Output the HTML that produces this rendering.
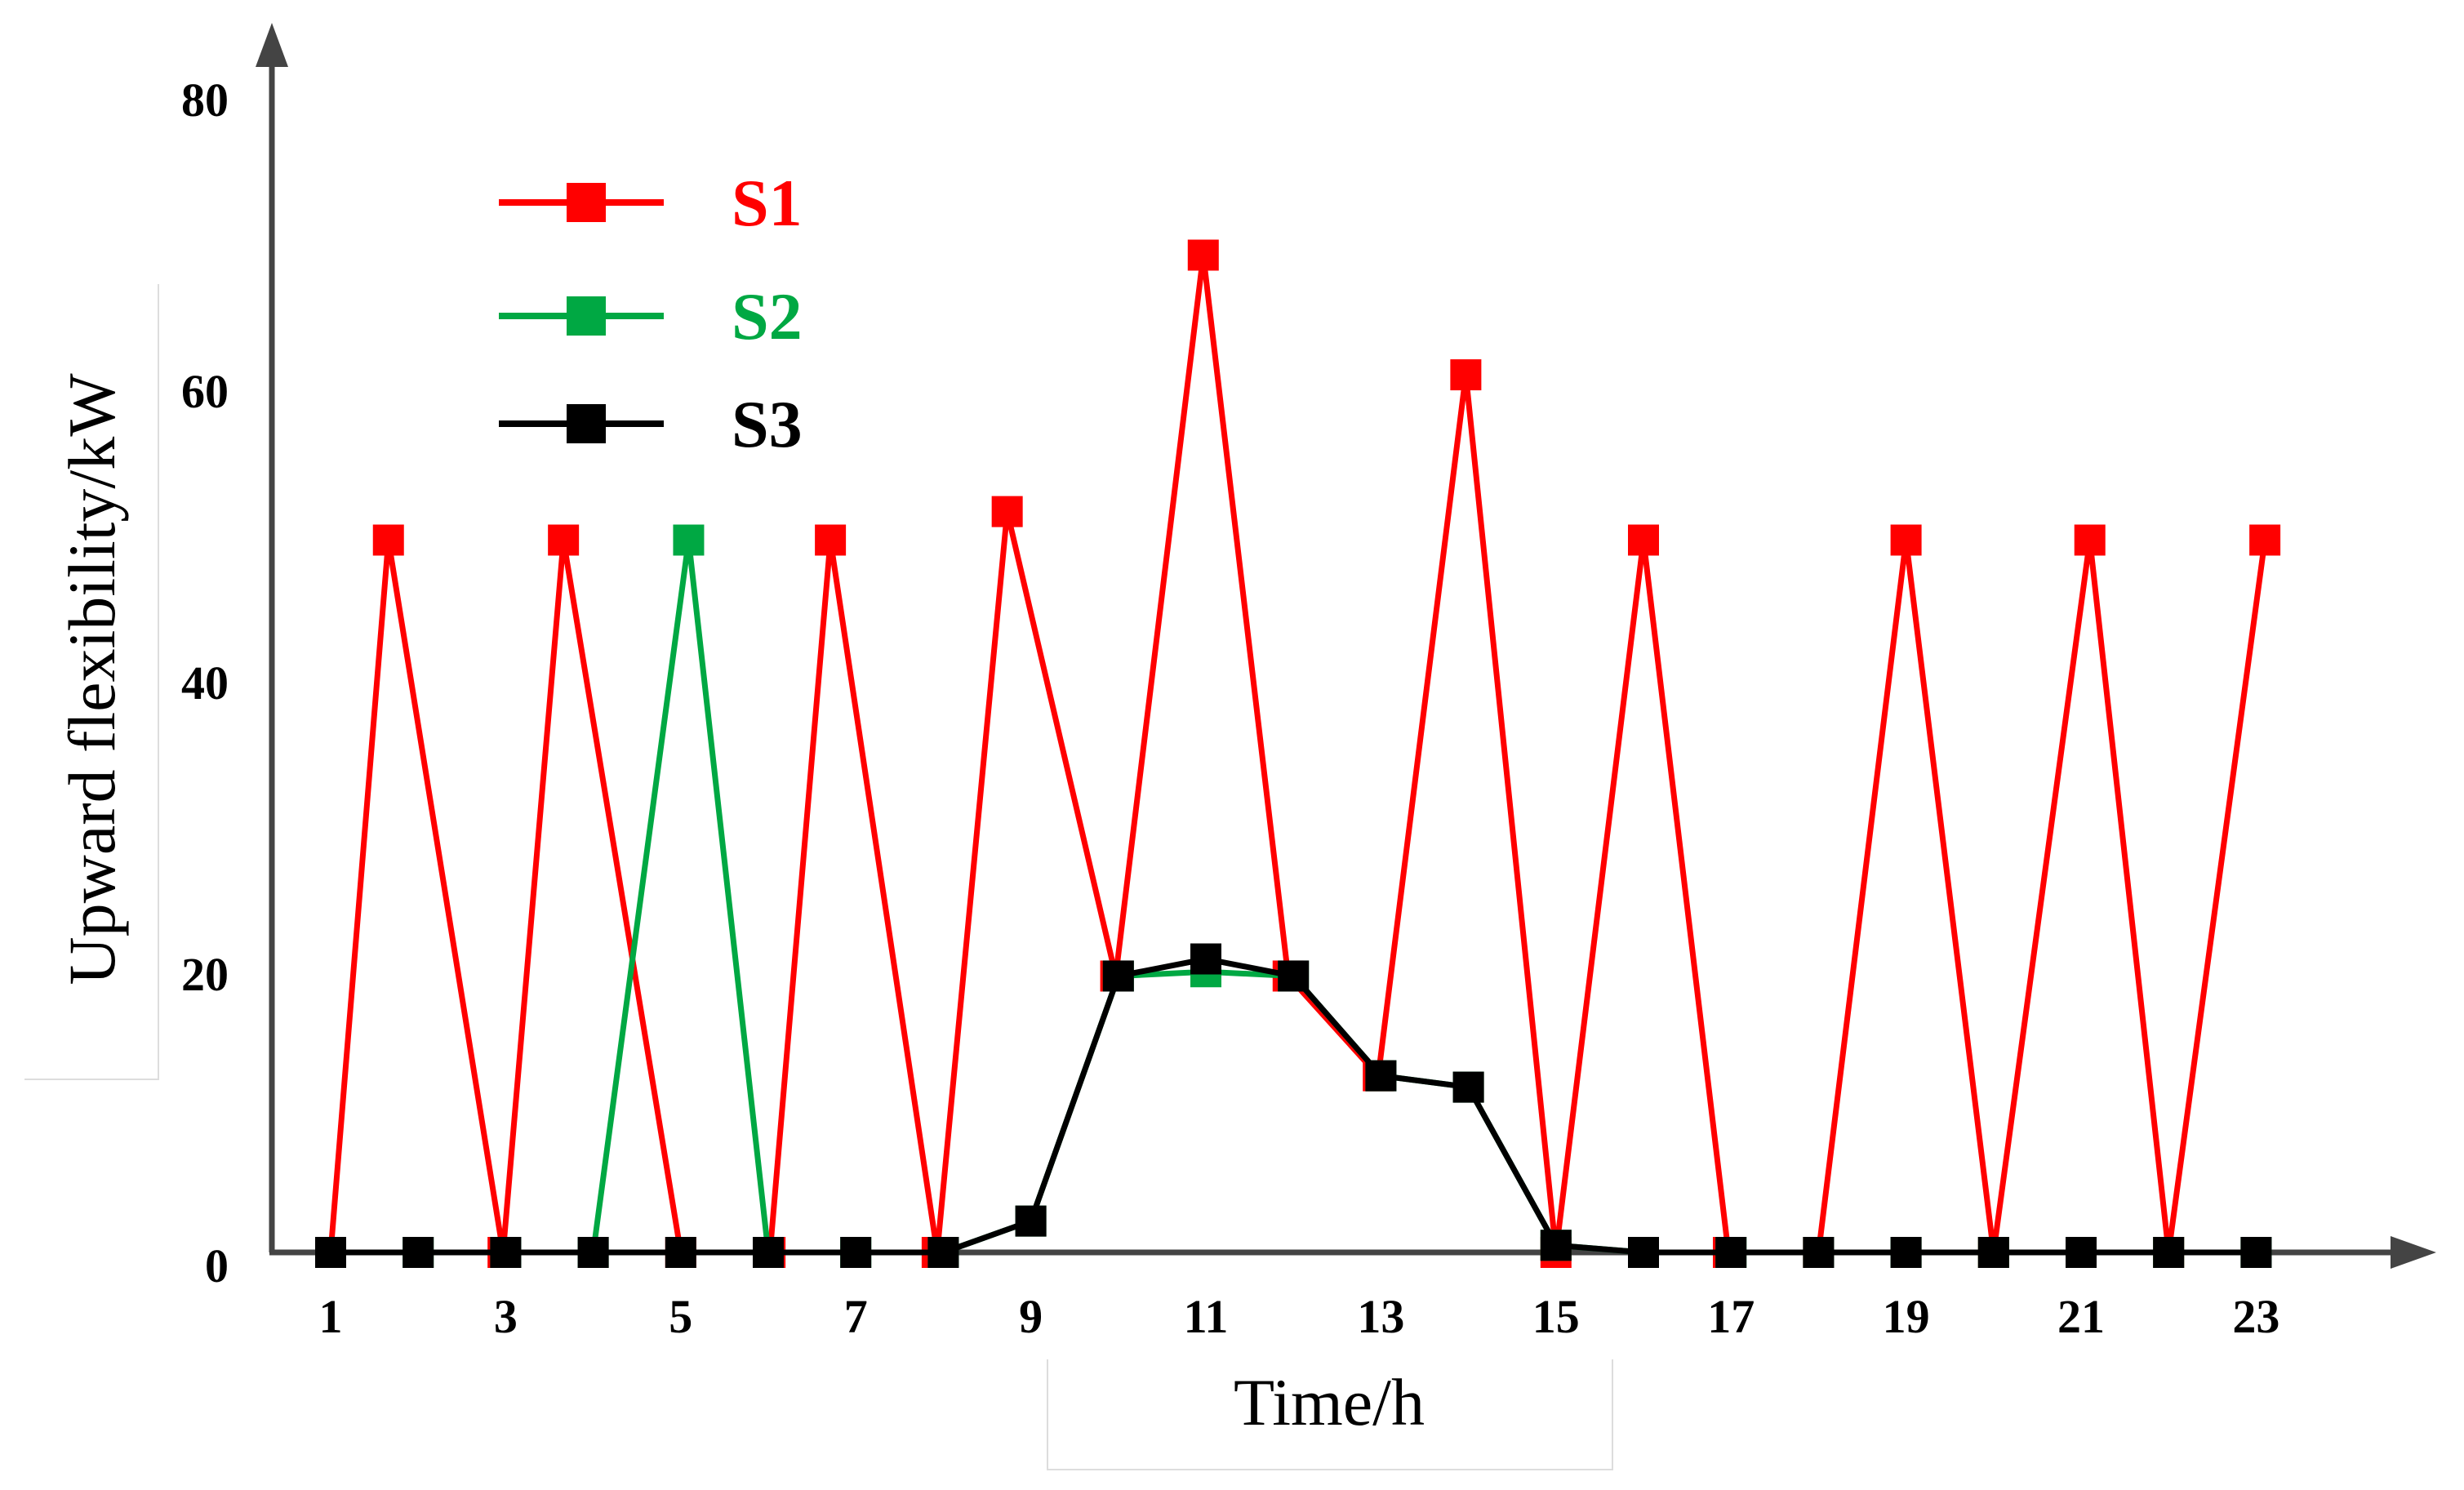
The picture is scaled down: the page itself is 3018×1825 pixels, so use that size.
<!DOCTYPE html>
<html><head><meta charset="utf-8"><style>
html,body{margin:0;padding:0;background:#fff}
svg{display:block}
text{font-family:"Liberation Serif",serif}
</style></head><body>
<svg id="chart" width="3018" height="1825" viewBox="0 0 3018 1825" xmlns="http://www.w3.org/2000/svg">
<rect width="3018" height="1825" fill="#fff"/>
<g stroke="#ddd" stroke-width="2" fill="none">
<path d="M194 348 V1322 H30"/>
<path d="M1283 1665 V1800 H1975 V1665"/>
</g>
<g id="axes"></g>
<g id="series"></g>
<g id="legend"></g>
<text x="0" y="0" transform="translate(140,832) rotate(-90)" text-anchor="middle" font-size="82" fill="#000">Upward flexibility/kW</text>
<text x="1628" y="1745" text-anchor="middle" font-size="82" fill="#000">Time/h</text>
</svg>
<script>
const xTicks = [1,3,5,7,9,11,13,15,17,19,21,23];
const yTicks = [0,20,40,60,80];
const s1Hours = [1,1.66,2.97,3.66,5,6.02,6.71,7.93,8.73,9.97,10.97,11.94,12.97,13.97,15,16,16.97,18,19,20,21.1,22,23.1];
const s1Values = [0,50,0,50,0,0,50,0,52,19.4,70,19.4,12.4,61.6,0,50,0,0,50,0,50,0,50];
const s2Hours = [1,2,3,4,5.09,6,7,8,9,10,11,12,13,14,15,16,17,18,19,20,21,22,23];
const s2Values = [0,0,0,0,50,0,0,0,2.2,19.4,19.7,19.4,12.4,11.6,0.5,0,0,0,0,0,0,0,0];
const s3Hours = [1,2,3,4,5,6,7,8,9,10,11,12,13,14,15,16,17,18,19,20,21,22,23];
const s3Values = [0,0,0,0,0,0,0,0,2.2,19.4,20.6,19.4,12.4,11.6,0.5,0,0,0,0,0,0,0,0];
const seriesNames = ["S1","S2","S3"];
const seriesColors = ["#ff0000","#00a843","#000000"];

const NS = "http://www.w3.org/2000/svg";
const X0 = 405, XS = 107.2, Y0 = 1534, YS = 17.45;
function xs(h){ return X0 + (h-1)*XS; }
function ys(v){ return Y0 - v*YS; }
function mk(tag, attrs, parent){ const e=document.createElementNS(NS,tag); for(const k in attrs) e.setAttribute(k,attrs[k]); parent.appendChild(e); return e; }

const axes = document.getElementById('axes');
let yl = mk('line',{x1:333,y1:Y0,x2:333,y2:80,stroke:'#444','stroke-width':7},axes);


let ya = mk('path',{d:'M333 28 L313 82 L353 82 Z',fill:'#444'},axes);


let xl = mk('line',{x1:330,y1:Y0,x2:2930,y2:Y0,stroke:'#444','stroke-width':7},axes);


let xa = mk('path',{d:'M2984 '+Y0+' L2928 '+(Y0-20)+' L2928 '+(Y0+20)+' Z',fill:'#444'},axes);


xTicks.forEach(t=>{
  const e = mk('text',{x:xs(t),y:1632,'text-anchor':'middle','font-size':58,'font-weight':'bold'},axes);
  e.textContent = t;
  
  
});
yTicks.forEach(t=>{
  const e = mk('text',{x:280,y:ys(t)+20-(t-40)*0.4,'text-anchor':'end','font-size':58,'font-weight':'bold'},axes);
  e.textContent = t;
  
  
});

const sg = document.getElementById('series');
const allH = [s1Hours,s2Hours,s3Hours], allV = [s1Values,s2Values,s3Values];
for(let s=0;s<3;s++){
  const g = mk('g',{},sg);
  
  
  const pts = allH[s].map((h,i)=>xs(h)+','+ys(allV[s][i])).join(' ');
  const pl = mk('polyline',{points:pts,fill:'none',stroke:seriesColors[s],'stroke-width':7,'stroke-linejoin':'round'},g);
  
  
  allH[s].forEach((h,i)=>{
    const r = mk('rect',{x:xs(h)-19,y:ys(allV[s][i])-19,width:38,height:38,fill:seriesColors[s]},g);
    
    
  });
}

const lg = document.getElementById('legend');
const legY = [248,387,519];
for(let s=0;s<3;s++){
  const g = mk('g',{},lg);
  
  
  mk('line',{x1:611,y1:legY[s],x2:813,y2:legY[s],stroke:seriesColors[s],'stroke-width':8},g);
  mk('rect',{x:694,y:legY[s]-24,width:48,height:48,fill:seriesColors[s]},g);
  const t = mk('text',{x:896,y:legY[s]+28,'font-size':82,'font-weight':'bold',fill:seriesColors[s]},g);
  t.textContent = seriesNames[s];
}
</script>
</body></html>
